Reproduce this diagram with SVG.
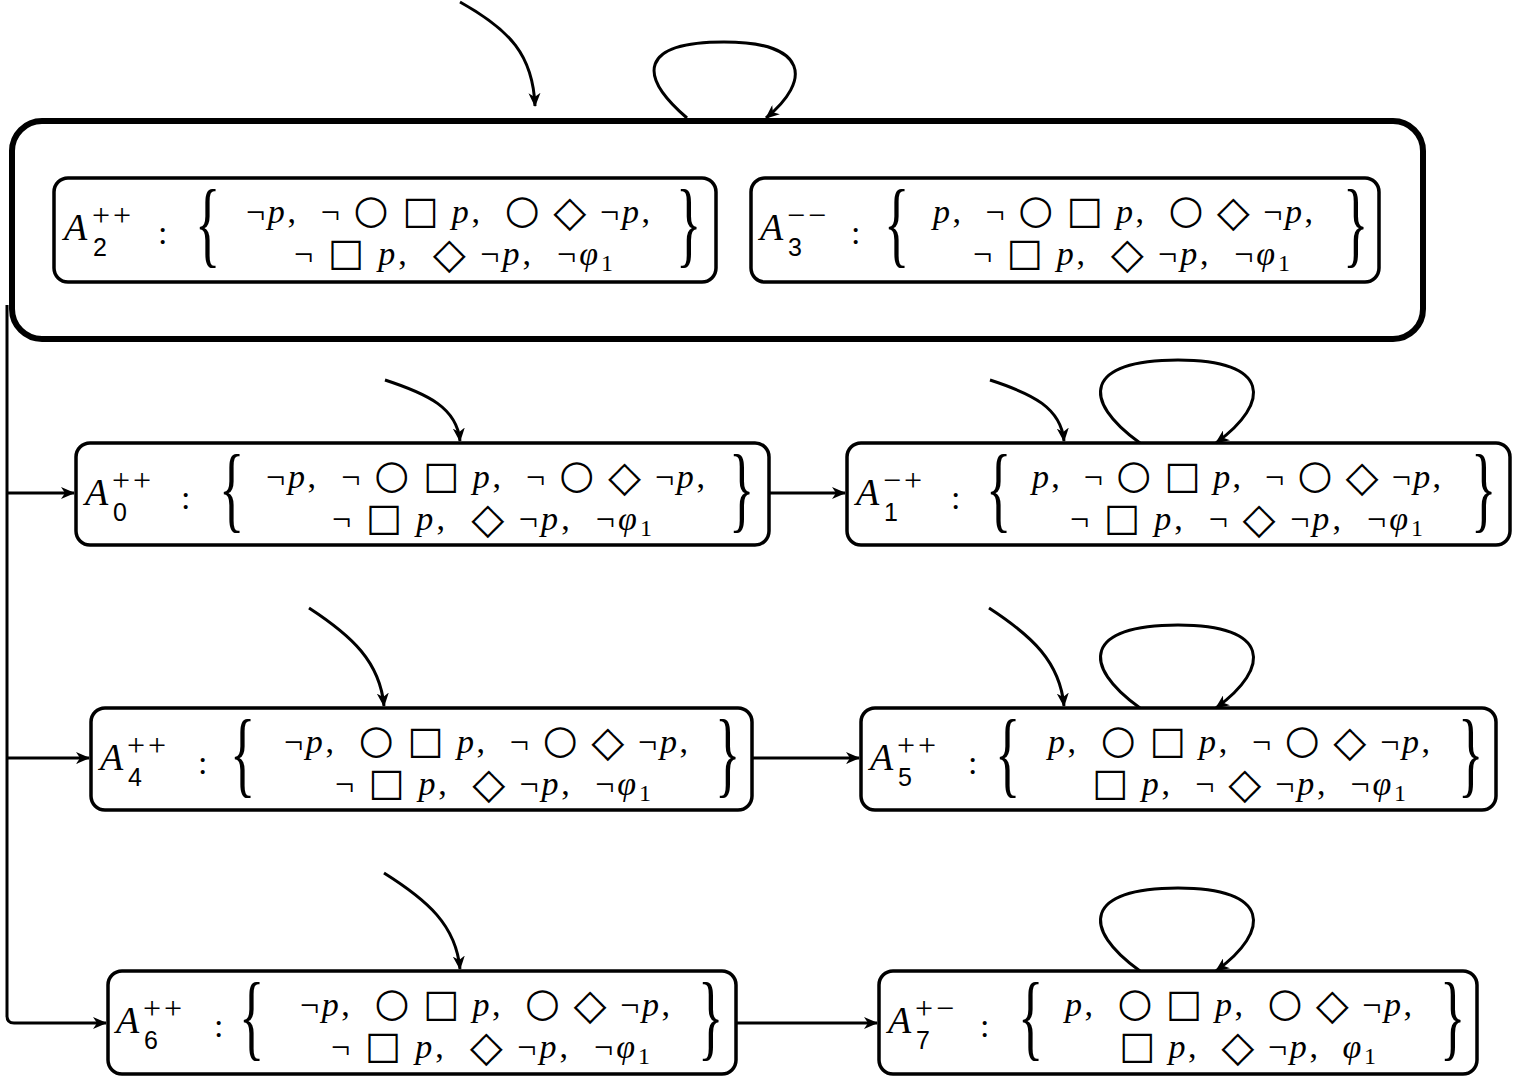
<svg xmlns="http://www.w3.org/2000/svg" width="1523" height="1078" viewBox="0 0 1523 1078">
<style>
.box{fill:none;stroke:#000;stroke-width:3.5}
.outer{fill:none;stroke:#000;stroke-width:6}
.e{fill:none;stroke:#000;stroke-width:3}
.f{font-family:"Liberation Serif",serif;font-size:34px;white-space:pre}
.i{font-style:italic}
.c{font-family:"DejaVu Sans",sans-serif;font-size:40px;font-style:normal}
.q{font-family:"DejaVu Sans",sans-serif;font-size:38px;font-style:normal}
.d{font-family:"DejaVu Sans",sans-serif;font-size:43px;font-style:normal}
.A{font-family:"Liberation Serif",serif;font-style:italic;font-size:38px}
.sup{font-family:"Liberation Serif",serif;font-size:32px;letter-spacing:3px}
.sub{font-family:"Liberation Sans",sans-serif;font-size:25px}
.col{font-family:"Liberation Serif",serif;font-size:34px}
.br{font-family:"Liberation Serif",serif;font-size:96px}
.s1{font-size:24px;font-style:normal}
</style>
<defs>
<marker id="ah" markerWidth="14" markerHeight="12" refX="13" refY="6" orient="auto" markerUnits="userSpaceOnUse"><path d="M0,0 L14,6 L0,12 L4,6 Z" fill="#000"/></marker>
</defs>

<g id="outer"><rect class="outer" x="12" y="121" width="1411" height="218" rx="30"/></g>

<g id="connectors">
<path class="e" d="M460,2 C510,30 533,55 535,106" marker-end="url(#ah)"/>
<path class="e" d="M687,118 C637,75 640,42 724,42 C808,42 812,80 766,118" marker-end="url(#ah)"/>
<path class="e" d="M385,380 C428,394 457,408 460,441" marker-end="url(#ah)"/>
<path class="e" d="M990,380 C1033,394 1061,408 1064,441" marker-end="url(#ah)"/>
<path class="e" d="M1140,443 C1080,400 1085,360 1178,360 C1270,360 1272,402 1216,443" marker-end="url(#ah)"/>
<path class="e" d="M309,608 C352,636 380,662 384,706" marker-end="url(#ah)"/>
<path class="e" d="M989,608 C1032,636 1060,662 1064,706" marker-end="url(#ah)"/>
<path class="e" d="M1140,708 C1080,665 1085,625 1178,625 C1270,625 1272,667 1216,708" marker-end="url(#ah)"/>
<path class="e" d="M384,873 C427,900 456,925 460,969" marker-end="url(#ah)"/>
<path class="e" d="M1140,971 C1080,928 1085,888 1178,888 C1270,888 1272,930 1216,971" marker-end="url(#ah)"/>
<path class="e" d="M769,493 L845,493" marker-end="url(#ah)"/>
<path class="e" d="M752,758 L859,758" marker-end="url(#ah)"/>
<path class="e" d="M736,1023 L877,1023" marker-end="url(#ah)"/>
<path class="e" d="M7,305 L7,1016 Q7,1023 14,1023 L106,1023" marker-end="url(#ah)"/>
<path class="e" d="M7,493 L74,493" marker-end="url(#ah)"/>
<path class="e" d="M7,758 L89,758" marker-end="url(#ah)"/>
</g>

<g id="A2">
<rect class="box" x="54" y="178" width="662" height="104" rx="14"/>
<text class="A" x="64" y="240">A</text><text class="sup" x="92" y="226">++</text><text class="sub" x="93" y="256">2</text>
<text class="col" x="158" y="244">:</text>
<text class="br" transform="translate(195,255) scale(0.55,1)">{</text>
<text class="f" x="246" y="223" textLength="404" lengthAdjust="spacing">¬<tspan class="i">p</tspan>,  ¬ <tspan class="c">○</tspan> <tspan class="q">□</tspan> <tspan class="i">p</tspan>,  <tspan class="c">○</tspan> <tspan class="d" dy="3">◇</tspan><tspan dy="-3"> </tspan>¬<tspan class="i">p</tspan>,</text>
<text class="f" x="294" y="265" textLength="319" lengthAdjust="spacing">¬ <tspan class="q">□</tspan> <tspan class="i">p</tspan>,  <tspan class="d" dy="3">◇</tspan><tspan dy="-3"> </tspan>¬<tspan class="i">p</tspan>,  ¬<tspan class="i">φ</tspan><tspan class="s1" dy="6">1</tspan></text>
<text class="br" transform="translate(676,255) scale(0.55,1)">}</text>
</g>

<g id="A3">
<rect class="box" x="751" y="178" width="628" height="104" rx="14"/>
<text class="A" x="760" y="240">A</text><text class="sup" x="787" y="226">−−</text><text class="sub" x="788" y="256">3</text>
<text class="col" x="851" y="244">:</text>
<text class="br" transform="translate(884,255) scale(0.55,1)">{</text>
<text class="f" x="933" y="223" textLength="380" lengthAdjust="spacing"><tspan class="i">p</tspan>,  ¬ <tspan class="c">○</tspan> <tspan class="q">□</tspan> <tspan class="i">p</tspan>,  <tspan class="c">○</tspan> <tspan class="d" dy="3">◇</tspan><tspan dy="-3"> </tspan>¬<tspan class="i">p</tspan>,</text>
<text class="f" x="973" y="265" textLength="317" lengthAdjust="spacing">¬ <tspan class="q">□</tspan> <tspan class="i">p</tspan>,  <tspan class="d" dy="3">◇</tspan><tspan dy="-3"> </tspan>¬<tspan class="i">p</tspan>,  ¬<tspan class="i">φ</tspan><tspan class="s1" dy="6">1</tspan></text>
<text class="br" transform="translate(1343,255) scale(0.55,1)">}</text>
</g>

<g id="A0">
<rect class="box" x="76" y="443" width="693" height="102" rx="14"/>
<text class="A" x="85" y="505">A</text><text class="sup" x="112" y="491">++</text><text class="sub" x="113" y="521">0</text>
<text class="col" x="181" y="509">:</text>
<text class="br" transform="translate(219,520) scale(0.55,1)">{</text>
<text class="f" x="266" y="488" textLength="439" lengthAdjust="spacing">¬<tspan class="i">p</tspan>,  ¬ <tspan class="c">○</tspan> <tspan class="q">□</tspan> <tspan class="i">p</tspan>,  ¬ <tspan class="c">○</tspan> <tspan class="d" dy="3">◇</tspan><tspan dy="-3"> </tspan>¬<tspan class="i">p</tspan>,</text>
<text class="f" x="332" y="530" textLength="320" lengthAdjust="spacing">¬ <tspan class="q">□</tspan> <tspan class="i">p</tspan>,  <tspan class="d" dy="3">◇</tspan><tspan dy="-3"> </tspan>¬<tspan class="i">p</tspan>,  ¬<tspan class="i">φ</tspan><tspan class="s1" dy="6">1</tspan></text>
<text class="br" transform="translate(729,520) scale(0.55,1)">}</text>
</g>

<g id="A1">
<rect class="box" x="847" y="443" width="663" height="102" rx="14"/>
<text class="A" x="856" y="505">A</text><text class="sup" x="883" y="491">−+</text><text class="sub" x="884" y="521">1</text>
<text class="col" x="951" y="509">:</text>
<text class="br" transform="translate(986,520) scale(0.55,1)">{</text>
<text class="f" x="1032" y="488" textLength="409" lengthAdjust="spacing"><tspan class="i">p</tspan>,  ¬ <tspan class="c">○</tspan> <tspan class="q">□</tspan> <tspan class="i">p</tspan>,  ¬ <tspan class="c">○</tspan> <tspan class="d" dy="3">◇</tspan><tspan dy="-3"> </tspan>¬<tspan class="i">p</tspan>,</text>
<text class="f" x="1070" y="530" textLength="353" lengthAdjust="spacing">¬ <tspan class="q">□</tspan> <tspan class="i">p</tspan>,  ¬ <tspan class="d" dy="3">◇</tspan><tspan dy="-3"> </tspan>¬<tspan class="i">p</tspan>,  ¬<tspan class="i">φ</tspan><tspan class="s1" dy="6">1</tspan></text>
<text class="br" transform="translate(1471,520) scale(0.55,1)">}</text>
</g>

<g id="A4">
<rect class="box" x="91" y="708" width="661" height="102" rx="14"/>
<text class="A" x="100" y="770">A</text><text class="sup" x="127" y="756">++</text><text class="sub" x="128" y="786">4</text>
<text class="col" x="198" y="774">:</text>
<text class="br" transform="translate(230,785) scale(0.55,1)">{</text>
<text class="f" x="284" y="753" textLength="404" lengthAdjust="spacing">¬<tspan class="i">p</tspan>,  <tspan class="c">○</tspan> <tspan class="q">□</tspan> <tspan class="i">p</tspan>,  ¬ <tspan class="c">○</tspan> <tspan class="d" dy="3">◇</tspan><tspan dy="-3"> </tspan>¬<tspan class="i">p</tspan>,</text>
<text class="f" x="335" y="795" textLength="316" lengthAdjust="spacing">¬ <tspan class="q">□</tspan> <tspan class="i">p</tspan>,  <tspan class="d" dy="3">◇</tspan><tspan dy="-3"> </tspan>¬<tspan class="i">p</tspan>,  ¬<tspan class="i">φ</tspan><tspan class="s1" dy="6">1</tspan></text>
<text class="br" transform="translate(715,785) scale(0.55,1)">}</text>
</g>

<g id="A5">
<rect class="box" x="861" y="708" width="635" height="102" rx="14"/>
<text class="A" x="870" y="770">A</text><text class="sup" x="897" y="756">++</text><text class="sub" x="898" y="786">5</text>
<text class="col" x="968" y="774">:</text>
<text class="br" transform="translate(995,785) scale(0.55,1)">{</text>
<text class="f" x="1048" y="753" textLength="382" lengthAdjust="spacing"><tspan class="i">p</tspan>,  <tspan class="c">○</tspan> <tspan class="q">□</tspan> <tspan class="i">p</tspan>,  ¬ <tspan class="c">○</tspan> <tspan class="d" dy="3">◇</tspan><tspan dy="-3"> </tspan>¬<tspan class="i">p</tspan>,</text>
<text class="f" x="1092" y="795" textLength="314" lengthAdjust="spacing"><tspan class="q">□</tspan> <tspan class="i">p</tspan>,  ¬ <tspan class="d" dy="3">◇</tspan><tspan dy="-3"> </tspan>¬<tspan class="i">p</tspan>,  ¬<tspan class="i">φ</tspan><tspan class="s1" dy="6">1</tspan></text>
<text class="br" transform="translate(1458,785) scale(0.55,1)">}</text>
</g>

<g id="A6">
<rect class="box" x="108" y="971" width="628" height="103" rx="14"/>
<text class="A" x="116" y="1033">A</text><text class="sup" x="143" y="1019">++</text><text class="sub" x="144" y="1049">6</text>
<text class="col" x="214" y="1037">:</text>
<text class="br" transform="translate(239,1048) scale(0.55,1)">{</text>
<text class="f" x="300" y="1016" textLength="370" lengthAdjust="spacing">¬<tspan class="i">p</tspan>,  <tspan class="c">○</tspan> <tspan class="q">□</tspan> <tspan class="i">p</tspan>,  <tspan class="c">○</tspan> <tspan class="d" dy="3">◇</tspan><tspan dy="-3"> </tspan>¬<tspan class="i">p</tspan>,</text>
<text class="f" x="331" y="1058" textLength="319" lengthAdjust="spacing">¬ <tspan class="q">□</tspan> <tspan class="i">p</tspan>,  <tspan class="d" dy="3">◇</tspan><tspan dy="-3"> </tspan>¬<tspan class="i">p</tspan>,  ¬<tspan class="i">φ</tspan><tspan class="s1" dy="6">1</tspan></text>
<text class="br" transform="translate(698,1048) scale(0.55,1)">}</text>
</g>

<g id="A7">
<rect class="box" x="879" y="971" width="598" height="103" rx="14"/>
<text class="A" x="888" y="1033">A</text><text class="sup" x="915" y="1019">+−</text><text class="sub" x="916" y="1049">7</text>
<text class="col" x="980" y="1037">:</text>
<text class="br" transform="translate(1018,1048) scale(0.55,1)">{</text>
<text class="f" x="1065" y="1016" textLength="347" lengthAdjust="spacing"><tspan class="i">p</tspan>,  <tspan class="c">○</tspan> <tspan class="q">□</tspan> <tspan class="i">p</tspan>,  <tspan class="c">○</tspan> <tspan class="d" dy="3">◇</tspan><tspan dy="-3"> </tspan>¬<tspan class="i">p</tspan>,</text>
<text class="f" x="1119" y="1058" textLength="257" lengthAdjust="spacing"><tspan class="q">□</tspan> <tspan class="i">p</tspan>,  <tspan class="d" dy="3">◇</tspan><tspan dy="-3"> </tspan>¬<tspan class="i">p</tspan>,  <tspan class="i">φ</tspan><tspan class="s1" dy="6">1</tspan></text>
<text class="br" transform="translate(1440,1048) scale(0.55,1)">}</text>
</g>
</svg>
